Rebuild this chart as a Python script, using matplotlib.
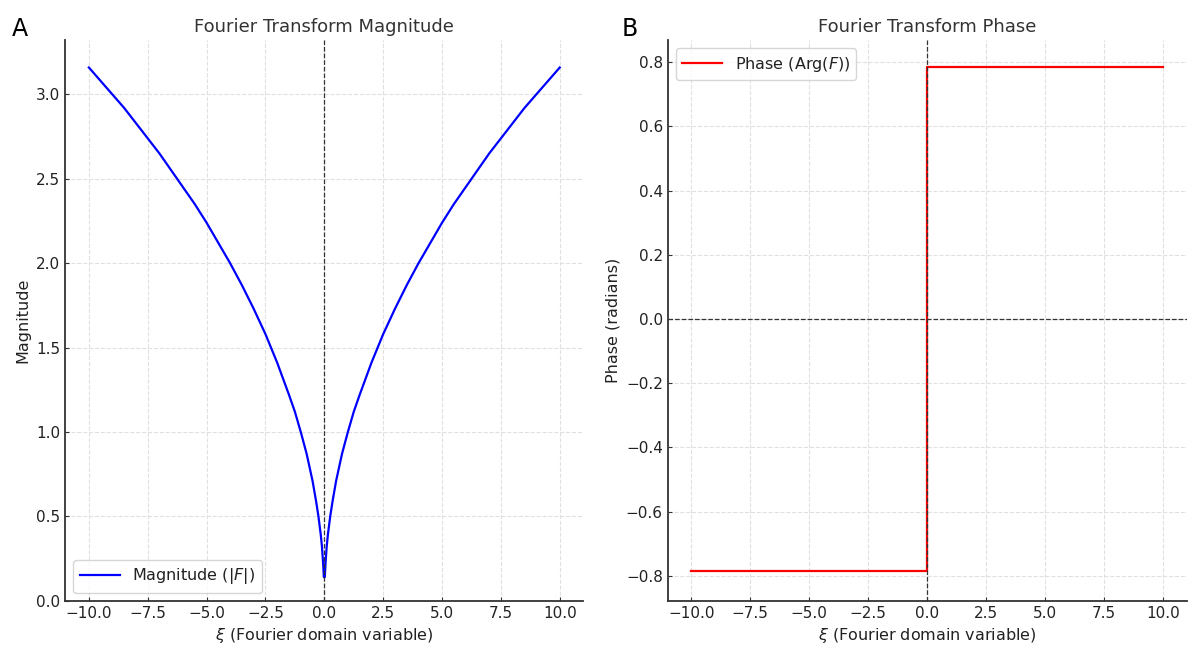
import numpy as np
import matplotlib
matplotlib.use('Agg')
import matplotlib.pyplot as plt

# values
xi_pos = [0.02, 0.05, 0.1, 0.15, 0.25, 0.35, 0.5, 0.75, 1, 1.25, 1.5, 2, 2.5, 3, 3.5, 4, 4.5,
          5, 5.5, 6, 6.5, 7, 7.5, 8, 8.5, 9, 9.5, 10]
mag_pos = [0.14, 0.22, 0.32, 0.39, 0.5, 0.59, 0.71, 0.87, 1.0, 1.12, 1.22, 1.41, 1.58, 1.73, 1.87,
           2.0, 2.12, 2.24, 2.35, 2.45, 2.55, 2.65, 2.74, 2.83, 2.92, 3.0, 3.08, 3.16]
xi_mag = [-x for x in xi_pos[::-1]] + xi_pos
mag = mag_pos[::-1] + mag_pos

xi_phase = [-10, 0, 0, 10]
phase = [-0.785, -0.785, 0.785, 0.785]

xticks = [-10.0, -7.5, -5.0, -2.5, 0.0, 2.5, 5.0, 7.5, 10.0]
mag_yticks = [0.0, 0.5, 1.0, 1.5, 2.0, 2.5, 3.0]
phase_yticks = [-0.8, -0.6, -0.4, -0.2, 0.0, 0.2, 0.4, 0.6, 0.8]

plt.rcParams['font.family'] = ['DejaVu Sans']
plt.rcParams['text.color'] = '#222222'
plt.rcParams['axes.labelcolor'] = '#222222'
plt.rcParams['xtick.color'] = '#333333'
plt.rcParams['ytick.color'] = '#333333'
plt.rcParams['xtick.labelcolor'] = '#222222'
plt.rcParams['ytick.labelcolor'] = '#222222'

fig = plt.figure(figsize=(11.88, 6.53), dpi=100)
ax1 = fig.add_axes([0.055, 0.08, 0.436, 0.858])
ax2 = fig.add_axes([0.562, 0.08, 0.437, 0.858])


def style(ax):
    for s in ['top', 'right']:
        ax.spines[s].set_visible(False)
    for s in ['left', 'bottom']:
        ax.spines[s].set_color('#333333')
        ax.spines[s].set_linewidth(1.3)
    ax.tick_params(direction='in', length=3, labelsize=11)
    ax.grid(True, linestyle='--', color='#e0e0e0', linewidth=0.8)
    ax.set_axisbelow(True)
    ax.set_xticks(xticks)
    ax.set_xlim(-11, 11)


# panel A
style(ax1)
ax1.plot(xi_mag, mag, color='blue', lw=1.6, label=r'Magnitude ($|F|$)')
ax1.axvline(0, color='#333333', ls='--', lw=0.9)
ax1.set_yticks(mag_yticks)
ax1.set_ylim(0, 3.32)
ax1.set_title('Fourier Transform Magnitude', fontsize=13, color='#333333')
ax1.set_xlabel(r'$\xi$ (Fourier domain variable)', fontsize=11.5)
ax1.set_ylabel('Magnitude', fontsize=11.5)
ax1.legend(loc='lower left', fontsize=11.5, handlelength=2.5)

# panel B
style(ax2)
ax2.plot(xi_phase, phase, color='red', lw=1.6, label=r'Phase (Arg($F$))')
ax2.axvline(0, color='#333333', ls='--', lw=0.9)
ax2.axhline(0, color='#333333', ls='--', lw=0.9)
ax2.set_yticks(phase_yticks)
ax2.set_ylim(-0.878, 0.868)
ax2.set_title('Fourier Transform Phase', fontsize=13, color='#333333')
ax2.set_xlabel(r'$\xi$ (Fourier domain variable)', fontsize=11.5)
ax2.set_ylabel('Phase (radians)', fontsize=11.5)
ax2.legend(loc='upper left', fontsize=11.5, handlelength=2.5)

fig.text(0.01, 0.945, 'A', fontsize=17, color='black')
fig.text(0.523, 0.945, 'B', fontsize=17, color='black')

fig.savefig('out.png', dpi=100)
